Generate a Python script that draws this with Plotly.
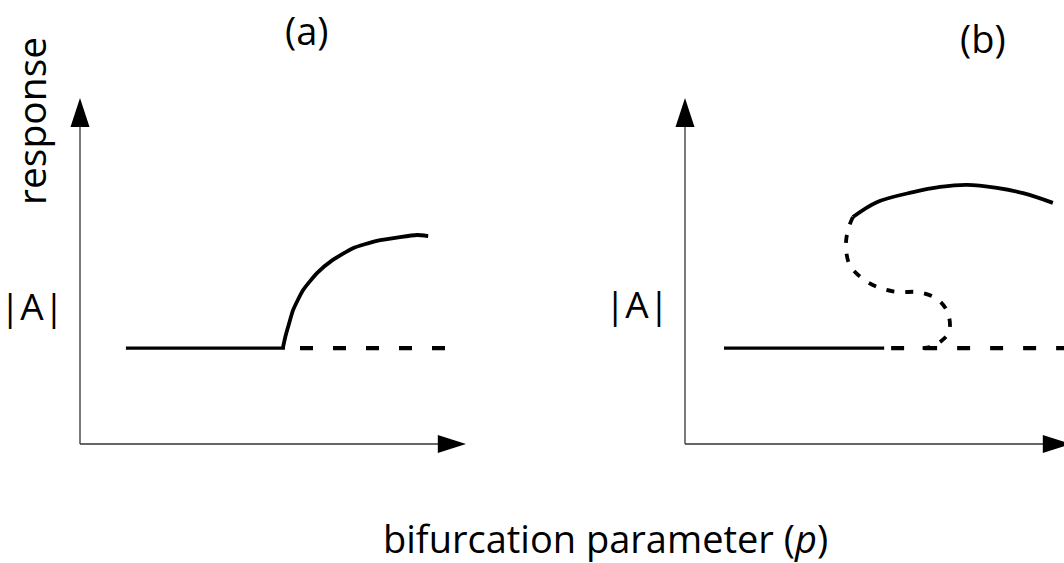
import plotly.graph_objects as go

W, H = 1064, 563

# ---- data (p = bifurcation parameter, amp = |A|), same units in both panels ----
base_amp = 27.7

# panel (a): supercritical branch
a_stable_p = [11.9, 53.1]
a_unstable_p = [57.0, 94.6]
a_branch_p = [52.6, 53.2, 53.9, 55.2, 57.8, 61.4, 65.5, 70.7, 76.9, 82.9, 87.3, 90.2]
a_branch_amp = [28.0, 31.0, 33.8, 38.7, 44.5, 49.4, 53.2, 56.6, 58.7, 59.8, 60.4, 60.1]

# panel (b): subcritical branch with fold
b_stable_p = [10.1, 51.6]
b_unstable_p = [53.4, 100.0]
b_fold_p = [43.5, 42.2, 41.7, 42.7, 46.1, 50.5, 55.4, 60.4, 65.3, 68.1, 68.4, 66.1, 63.5, 60.1]
b_fold_amp = [65.6, 61.8, 56.9, 51.7, 47.7, 45.1, 43.9, 43.9, 41.9, 37.9, 32.4, 29.5, 28.0, 27.7]
b_upper_p = [43.5, 49.7, 59.1, 66.1, 73.1, 80.8, 87.6, 95.3]
b_upper_amp = [65.6, 69.9, 72.8, 74.3, 74.9, 74.0, 72.5, 69.7]

panel_titles = ["(a)", "(b)"]
y_label_top = "response"
y_label_mid = "|A|"
x_label = "bifurcation parameter (<i>p</i>)"

# ---- layout geometry (pixels) ----
SX, SY = 3.86, 3.46            # pixels per data unit
ORIGINS = [(80, 444), (685, 444)]
X_LO, Y_LO, Y_HI = -15, -10, 108

FONT = "Open Sans, Noto Sans, DejaVu Sans, sans-serif"
INK = "#000000"

fig = go.Figure()

def add_line(p, amp, axis, dash=None, width=3.8, shape="linear", smoothing=1.0):
    fig.add_trace(go.Scatter(
        x=p, y=amp, mode="lines", xaxis=f"x{axis}", yaxis=f"y{axis}",
        line=dict(color=INK, width=width, dash=dash, shape=shape, smoothing=smoothing),
        hoverinfo="skip", showlegend=False, cliponaxis=True))

# panel (a)
add_line(a_stable_p, [base_amp] * 2, 1, width=3.4)
add_line(a_unstable_p, [base_amp] * 2, 1, dash="13px,20px", width=4.2)
add_line(a_branch_p, a_branch_amp, 1, shape="spline", smoothing=0.5)

# panel (b)
add_line(b_stable_p, [base_amp] * 2, 2, width=3.4)
add_line(b_unstable_p, [base_amp] * 2, 2, dash="13px,20px", width=4.2)
add_line(b_fold_p, b_fold_amp, 2, dash="8px,11px", width=3.8, shape="spline")
add_line(b_upper_p, b_upper_amp, 2, shape="spline")

def to_paper_x(px):
    return px / W

def to_paper_y(py):
    return 1 - py / H

layout = dict(
    width=W, height=H, margin=dict(l=0, r=0, t=0, b=0),
    paper_bgcolor="white", plot_bgcolor="white", showlegend=False,
    font=dict(family=FONT, color=INK),
)

shapes = []
for i, (ox, oy) in enumerate(ORIGINS, start=1):
    left_px = ox + X_LO * SX
    right_px = min(W, ox + 105 * SX)
    x_hi = (right_px - ox) / SX
    ax_common = dict(showgrid=False, zeroline=False, showticklabels=False,
                     ticks="", showline=False, fixedrange=True)
    layout[f"xaxis{i}"] = dict(domain=[to_paper_x(left_px), to_paper_x(right_px)],
                               range=[X_LO, x_hi], anchor=f"y{i}", **ax_common)
    layout[f"yaxis{i}"] = dict(domain=[to_paper_y(oy - Y_LO * SY), to_paper_y(oy - Y_HI * SY)],
                               range=[Y_LO, Y_HI], anchor=f"x{i}", **ax_common)
    xr, yr = f"x{i}", f"y{i}"
    axis_line = dict(color="#333333", width=1.3)
    # vertical axis + arrowhead
    shapes.append(dict(type="line", xref=xr, yref=yr, x0=0, y0=0, x1=0, y1=92,
                       line=axis_line, layer="below"))
    shapes.append(dict(type="path", xref=xr, yref=yr,
                       path="M -2.46,91.6 L 0,100 L 2.46,91.6 Z",
                       fillcolor=INK, line=dict(width=0)))
    # horizontal axis + arrowhead
    shapes.append(dict(type="line", xref=xr, yref=yr, x0=0, y0=0, x1=93, y1=0,
                       line=axis_line, layer="below"))
    shapes.append(dict(type="path", xref=xr, yref=yr,
                       path="M 92.7,2.6 L 100,0 L 92.7,-2.6 Z",
                       fillcolor=INK, line=dict(width=0)))

layout["shapes"] = shapes

def label(text, px, py, size=38, angle=0):
    return dict(text=text, x=to_paper_x(px), y=to_paper_y(py), xref="paper", yref="paper",
                showarrow=False, xanchor="center", yanchor="middle", textangle=angle,
                font=dict(family=FONT, size=size, color=INK))

layout["annotations"] = [
    label(panel_titles[0], 307, 30),
    label(panel_titles[1], 983, 38),
    label(y_label_top, 30, 121, size=39, angle=-90),
    label(y_label_mid, 32, 305, size=37),
    label(y_label_mid, 637, 303, size=37),
    label(x_label, 605, 538),
]

fig.update_layout(**layout)
fig.write_html("out.html")
